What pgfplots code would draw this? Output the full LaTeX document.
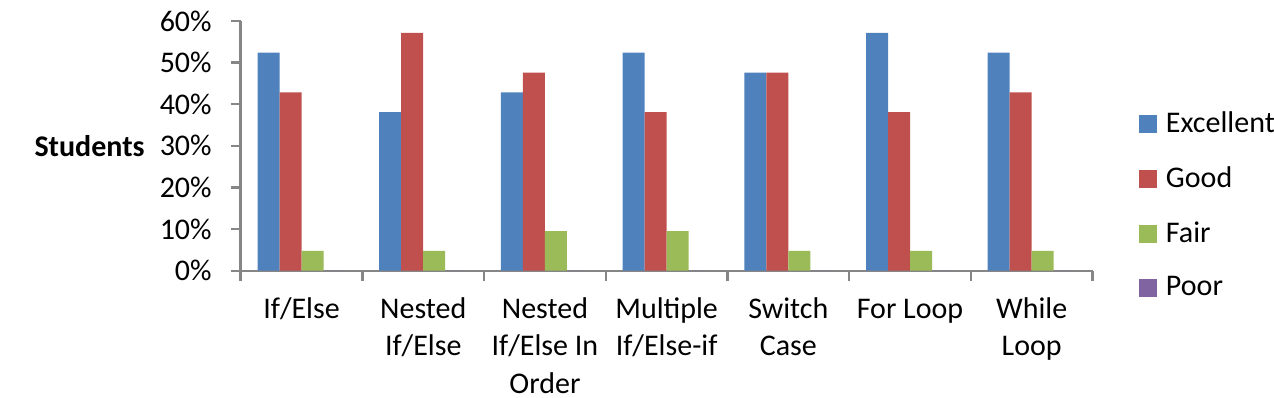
\documentclass[border=0pt]{standalone}
\usepackage{pgfplots}
\pgfplotsset{compat=1.18}
\usepackage{fontspec}
\setmainfont{Carlito}
\definecolor{cExc}{HTML}{4F81BD}
\definecolor{cGood}{HTML}{C0504D}
\definecolor{cFair}{HTML}{9BBB59}
\definecolor{cPoor}{HTML}{8064A2}
\definecolor{axgray}{HTML}{868686}
\begin{document}
\begin{tikzpicture}
\begin{axis}[
  at={(0,0)}, anchor=south west,
  scale only axis, width=425.95pt, height=124.85pt,
  ybar=0pt, bar width=11pt,
  xmin=-0.5, xmax=6.5, ymin=0, ymax=60,
  axis lines*=left,
  axis line style={axgray, line width=1.2pt},
  every tick/.style={axgray, line width=1.2pt},
  tick align=outside,
  xtick={-0.5,0.5,...,6.5}, xticklabels={},
  major tick length=5pt,
  extra x ticks={0,1,2,3,4,5,6},
  extra x tick labels={\strut If/Else, \strut Nested\\If/Else, \strut Nested\\If/Else In\\Order, \strut Multiple\\If/Else-if, \strut Switch\\Case, \strut For Loop, \strut While\\Loop},
  extra x tick style={major tick length=0pt, tick label style={align=center, anchor=north, inner sep=0pt, yshift=-10.5pt, font=\fontsize{15}{18.75}\selectfont}},
  ytick={0,10,...,60},
  yticklabel={\pgfmathprintnumber{\tick}\%},
  yticklabel style={font=\fontsize{15}{18}\selectfont, xshift=-6pt},
  /pgf/number format/assume math mode=true,
  clip=false,
  legend style={at={(axis description cs:1,0.262)}, anchor=west, xshift=20pt, draw=none, fill=none,
    font=\fontsize{15}{18}\selectfont, row sep=11.6pt, column sep=2.5pt,
    nodes={inner sep=2pt}},
  legend cell align=left,
  area legend,
  legend image code/.code={\fill (0pt,-4.5pt) rectangle (9pt,4.5pt);},
]
\addplot[fill=cExc, draw=none] coordinates {(0,52.38) (1,38.10) (2,42.86) (3,52.38) (4,47.62) (5,57.14) (6,52.38)};
\addplot[fill=cGood, draw=none] coordinates {(0,42.86) (1,57.14) (2,47.62) (3,38.10) (4,47.62) (5,38.10) (6,42.86)};
\addplot[fill=cFair, draw=none] coordinates {(0,4.76) (1,4.76) (2,9.52) (3,9.52) (4,4.76) (5,4.76) (6,4.76)};
\addplot[fill=cPoor, draw=none] coordinates {(0,0) (1,0) (2,0) (3,0) (4,0) (5,0) (6,0)};
\legend{Excellent, Good, Fair, Poor}
\node[anchor=east, font=\fontsize{15}{18}\selectfont\bfseries, inner sep=0pt, xshift=-47.85pt] at (axis description cs:0,0.5) {Students};
\end{axis}
\pgfresetboundingbox
\path (-120.35pt,-63.15pt) rectangle (516.65pt,135.35pt);
\end{tikzpicture}
\end{document}
